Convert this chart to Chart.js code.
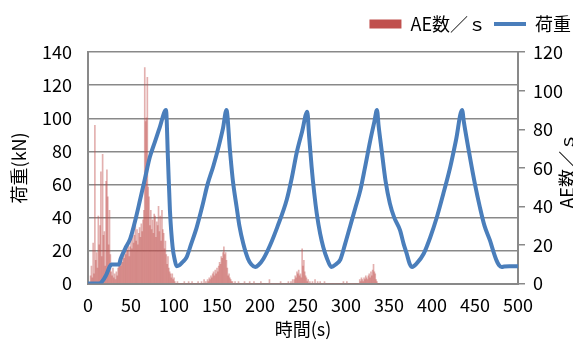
<!DOCTYPE html>
<html>
<head>
<meta charset="utf-8">
<script src="https://cdn.jsdelivr.net/npm/chart.js@4/dist/chart.umd.min.js"></script>
<style>
  html, body { margin: 0; padding: 0; background: #fff; }
  #wrap { width: 573px; height: 340px; }
</style>
</head>
<body>
<div id="wrap"><canvas id="chart" width="573" height="340"></canvas></div>
<script>
// AE数/s : one value per second, starting at t = 0 s (nothing after 340 s)
const aePerSecond = [
  0, 0, 0, 4, 9, 3, 21, 5, 82, 12,
  16, 8, 35, 20, 30, 58, 14, 67, 25, 27,
  9, 53, 59, 45, 20, 38, 15, 6, 4, 8,
  3, 5, 2, 6, 4, 8, 10, 12, 9, 14,
  11, 16, 13, 18, 15, 20, 17, 22, 14, 19,
  24, 18, 27, 21, 25, 30, 22, 28, 20, 26,
  29, 24, 31, 27, 33, 38, 112, 84, 86, 107,
  50, 45, 30, 38, 28, 33, 26, 36, 35, 24,
  32, 30, 40, 27, 35, 22, 38, 28, 26, 18,
  22, 15, 10, 14, 8, 6, 5, 3, 5, 2,
  3, 1, 0, 0, 1, 0, 0, 0, 0, 0,
  0, 0, 1, 0, 0, 0, 0, 1, 0, 0,
  0, 1, 0, 0, 0, 0, 0, 0, 1, 0,
  0, 0, 1, 0, 0, 2, 0, 1, 0, 2,
  1, 3, 2, 4, 3, 5, 6, 4, 7, 5,
  8, 6, 9, 11, 10, 14, 13, 16, 19, 15,
  16, 12, 8, 4, 5, 3, 2, 1, 1, 0,
  0, 1, 0, 0, 0, 1, 0, 0, 0, 0,
  0, 0, 1, 0, 0, 0, 0, 0, 1, 0,
  0, 0, 0, 1, 0, 0, 0, 0, 0, 0,
  0, 1, 0, 0, 0, 0, 0, 0, 0, 0,
  0, 2, 0, 0, 0, 0, 0, 0, 0, 0,
  0, 0, 0, 0, 1, 0, 0, 0, 0, 0,
  0, 0, 0, 1, 0, 0, 1, 0, 2, 0,
  2, 4, 3, 6, 5, 7, 4, 5, 3, 18,
  9, 12, 6, 4, 3, 1, 2, 0, 1, 0,
  0, 1, 0, 0, 2, 0, 0, 1, 0, 0,
  1, 0, 0, 0, 0, 1, 0, 0, 0, 0,
  0, 0, 0, 0, 0, 0, 0, 0, 0, 0,
  0, 0, 0, 0, 0, 0, 0, 1, 0, 0,
  0, 1, 0, 0, 0, 0, 0, 0, 0, 0,
  0, 0, 0, 0, 0, 0, 2, 1, 3, 2,
  1, 3, 2, 4, 3, 2, 4, 5, 3, 6,
  4, 7, 10, 6, 5, 2, 1, 0, 0, 0
];

// 荷重 (kN) read at these times (s)
const loadTime = [
  0, 13, 16, 21, 25, 27, 36, 38, 44, 49, 55.8, 60.5, 66, 72, 78, 83.7, 90.7,
  93, 95.3, 98.4, 101, 103, 106, 110, 114.7, 120, 126.4, 133, 139, 145.7, 152, 157, 161,
  165, 168.5, 172.9, 176, 180.6, 186, 190, 194.5, 198, 204, 211.6, 220, 231, 237, 242.6, 249, 255,
  257, 260, 263, 266, 270, 273.6, 278, 283, 288, 293.4, 299, 305, 311, 316.7, 322, 328.3, 333, 336,
  338, 341.4, 346, 351, 356, 362.8, 367, 370.5, 374, 377, 382, 390.3, 398, 405.8, 413, 421.3, 428, 435,
  437, 444, 450, 455.6, 461, 467.3, 471, 475, 478, 481, 484, 490, 500
];
const loadKN = [
  0, 0, 1, 5, 10, 11.5, 11.5, 15, 22, 27, 40, 50.5, 63, 76.7, 86, 95, 105,
  75, 44, 22, 14, 10.5, 11, 13, 16, 24, 34, 47, 60, 71, 83, 94, 105,
  81, 62, 46, 35, 24, 15, 11.5, 10, 11, 15, 23, 34, 50.5, 64, 79, 92, 104,
  90, 70.7, 55, 42.4, 30, 22, 15, 10, 11.5, 14.5, 24, 35, 46, 56.5, 70, 86.8, 98, 105,
  95, 80.8, 62, 48.5, 40, 32.3, 24, 18.2, 12, 10, 12, 18, 28, 40.4, 54, 70.7, 87, 105,
  98, 76.8, 60, 46.4, 35, 26.2, 20, 14, 11, 10, 10.3, 10.5, 10.5
];

const xTitle = '時間(s)';
const yTitle = '荷重(kN)';
const y2Title = 'AE数／ｓ';
const aeLabel = 'AE数／ｓ';
const loadLabel = '荷重';

const gray = '#898989';
const aeColor = '#C0504D';
const loadColor = '#4A7EBB';

Chart.defaults.font.family = '"Noto Sans CJK JP", sans-serif';
Chart.defaults.font.size = 18;
Chart.defaults.color = '#000';

// Chart.js puts a right-hand title top-to-bottom; this one reads bottom-to-top
const rightAxisTitle = {
    id: 'rightAxisTitle',
    afterDraw(chart) {
        const { ctx, chartArea } = chart;
        ctx.save();
        ctx.font = '18px "Noto Sans CJK JP"';
        ctx.fillStyle = '#000';
        ctx.textAlign = 'center';
        ctx.textBaseline = 'alphabetic';
        ctx.translate(chart.width + 1, (chartArea.top + chartArea.bottom) / 2 + 3);
        ctx.rotate(-Math.PI / 2);
        ctx.fillText(y2Title, 0, 0);
        ctx.restore();
    }
};

const ctx = document.getElementById('chart').getContext('2d');
new Chart(ctx, {
    type: 'bar',
    data: {
        datasets: [{
            type: 'bar',
            label: aeLabel,
            data: aePerSecond.map((v, i) => ({ x: i, y: v })),
            yAxisID: 'y2',
            backgroundColor: 'rgba(192, 80, 77, 0.45)',
            borderWidth: 0,
            barThickness: 1,
            order: 2
        }, {
            type: 'line',
            label: loadLabel,
            data: loadTime.map((t, i) => ({ x: t, y: loadKN[i] })),
            yAxisID: 'y',
            borderColor: loadColor,
            borderWidth: 4,
            borderJoinStyle: 'round',
            pointRadius: 0,
            cubicInterpolationMode: 'monotone',
            order: 1
        }]
    },
    options: {
        responsive: false,
        animation: false,
        layout: { padding: { top: 7, right: -6 } },
        plugins: {
            tooltip: { enabled: false },
            // empty spacer between the legend and the plot
            title: { display: true, text: '', weight: 2000, font: { size: 1 }, padding: { top: 0, bottom: 8 } },
            legend: {
                position: 'top',
                align: 'end',
                weight: 3000,
                labels: {
                    usePointStyle: true,
                    pointStyleWidth: 32,
                    boxHeight: 9,
                    padding: 8,
                    font: { size: 18 },
                    sort: (a, b) => a.datasetIndex - b.datasetIndex,
                    generateLabels(chart) {
                        const items = Chart.defaults.plugins.legend.labels.generateLabels(chart);
                        items.forEach(item => {
                            if (item.datasetIndex === 0) {
                                item.pointStyle = 'rect';
                                item.fillStyle = aeColor;
                                item.strokeStyle = aeColor;
                                item.lineWidth = 0;
                            } else {
                                item.pointStyle = 'line';
                                item.strokeStyle = loadColor;
                                item.lineWidth = 4;
                            }
                        });
                        return items;
                    }
                }
            }
        },
        scales: {
            x: {
                type: 'linear',
                min: 0,
                max: 500,
                offset: false,
                ticks: { stepSize: 50, padding: 11, maxRotation: 0 },
                grid: { display: false, drawTicks: false },
                border: { color: gray, width: 2 },
                title: { display: true, text: xTitle, padding: { top: 0, bottom: 0 } },
                afterFit: s => { s.height = 56.5; }
            },
            y: {
                position: 'left',
                min: 0,
                max: 140,
                ticks: { stepSize: 20, padding: 16 },
                grid: { color: gray, lineWidth: 1.5, drawTicks: false },
                border: { color: gray, width: 2 },
                title: { display: true, text: yTitle, padding: { top: 8, bottom: 0 } },
                afterFit: s => { s.width = 88; }
            },
            y2: {
                position: 'right',
                min: 0,
                max: 120,
                ticks: { stepSize: 20, padding: 8 },
                grid: { drawOnChartArea: false, drawTicks: true, tickLength: 7, color: gray, lineWidth: 1.5 },
                border: { color: gray, width: 2 },
                afterFit: s => { s.width = 61; }
            }
        }
    },
    plugins: [rightAxisTitle]
});
</script>
</body>
</html>
